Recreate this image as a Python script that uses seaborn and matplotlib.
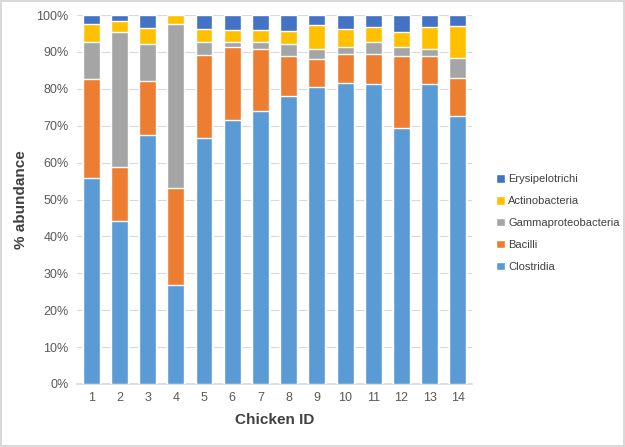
import numpy as np
import pandas as pd
import matplotlib
matplotlib.use("Agg")
import matplotlib.pyplot as plt
from matplotlib.patches import Patch
import seaborn as sns

sns.set_theme(style="white")
plt.rcParams['font.family'] = ['Liberation Sans', 'DejaVu Sans']

chicken_id = [str(i) for i in range(1, 15)]

# % abundance per class
clostridia = [55.7, 44.2, 67.6, 26.8, 66.8, 71.6, 74.1, 78.1, 80.4, 81.7, 81.3, 69.5, 81.3, 72.7]
bacilli = [27.0, 14.5, 14.6, 26.3, 22.4, 19.6, 16.8, 10.8, 7.6, 7.6, 8.2, 19.5, 7.7, 10.3]
gammaproteobacteria = [9.9, 36.6, 9.9, 44.5, 3.4, 1.4, 1.7, 3.2, 2.8, 1.9, 3.1, 2.4, 1.7, 5.4]
actinobacteria = [5.0, 3.0, 4.4, 2.4, 3.7, 3.3, 3.3, 3.6, 6.4, 5.0, 4.1, 3.9, 6.0, 8.6]
erysipelotrichi = [2.4, 1.7, 3.5, 0.0, 3.7, 4.1, 4.1, 4.3, 2.8, 3.8, 3.3, 4.7, 3.3, 3.0]

classes = ['Clostridia', 'Bacilli', 'Gammaproteobacteria', 'Actinobacteria', 'Erysipelotrichi']
colors = ['#5B9BD5', '#ED7D31', '#A5A5A5', '#FFC000', '#4472C4']

df = pd.DataFrame({
    'Chicken ID': chicken_id,
    'Clostridia': clostridia,
    'Bacilli': bacilli,
    'Gammaproteobacteria': gammaproteobacteria,
    'Actinobacteria': actinobacteria,
    'Erysipelotrichi': erysipelotrichi,
})
cum = df[classes].cumsum(axis=1)

fig = plt.figure(figsize=(6.25, 4.47), dpi=100)
fig.patch.set_edgecolor('#D9D9D9')
fig.patch.set_linewidth(1.5)
ax = fig.add_axes([77 / 625, 63 / 447, 395 / 625, 369 / 447])

# stacked bars: draw cumulative totals from the top layer down
for name, col in zip(classes[::-1], colors[::-1]):
    sns.barplot(x=df['Chicken ID'], y=cum[name], color=col, width=0.6,
                saturation=1, ax=ax, zorder=3)

ax.set_ylim(0, 100)
ax.set_xlim(-0.5, 13.5)
ax.set_yticks(np.arange(0, 101, 10))
ax.set_yticklabels([f'{v}%' for v in range(0, 101, 10)])
ax.yaxis.grid(True, color='#D9D9D9', linewidth=0.8, zorder=0)
ax.tick_params(axis='both', colors='#595959', labelsize=9, length=0, pad=6)
for s in ['top', 'right', 'left']:
    ax.spines[s].set_visible(False)
ax.spines['bottom'].set_color('#D9D9D9')
ax.set_xlabel('Chicken ID', fontsize=11, fontweight='bold', color='#404040', labelpad=6)
ax.set_ylabel('% abundance', fontsize=11, fontweight='bold', color='#404040', labelpad=6)

handles = [Patch(facecolor=c, label=n) for n, c in zip(classes[::-1], colors[::-1])]
fig.legend(handles=handles, loc='center left', bbox_to_anchor=(486 / 625, 1 - 223 / 447),
           frameon=False, fontsize=8, handlelength=0.8, handleheight=0.8,
           handletextpad=0.3, labelspacing=1.05, labelcolor='#404040')

fig.savefig('out.png', dpi=100)
